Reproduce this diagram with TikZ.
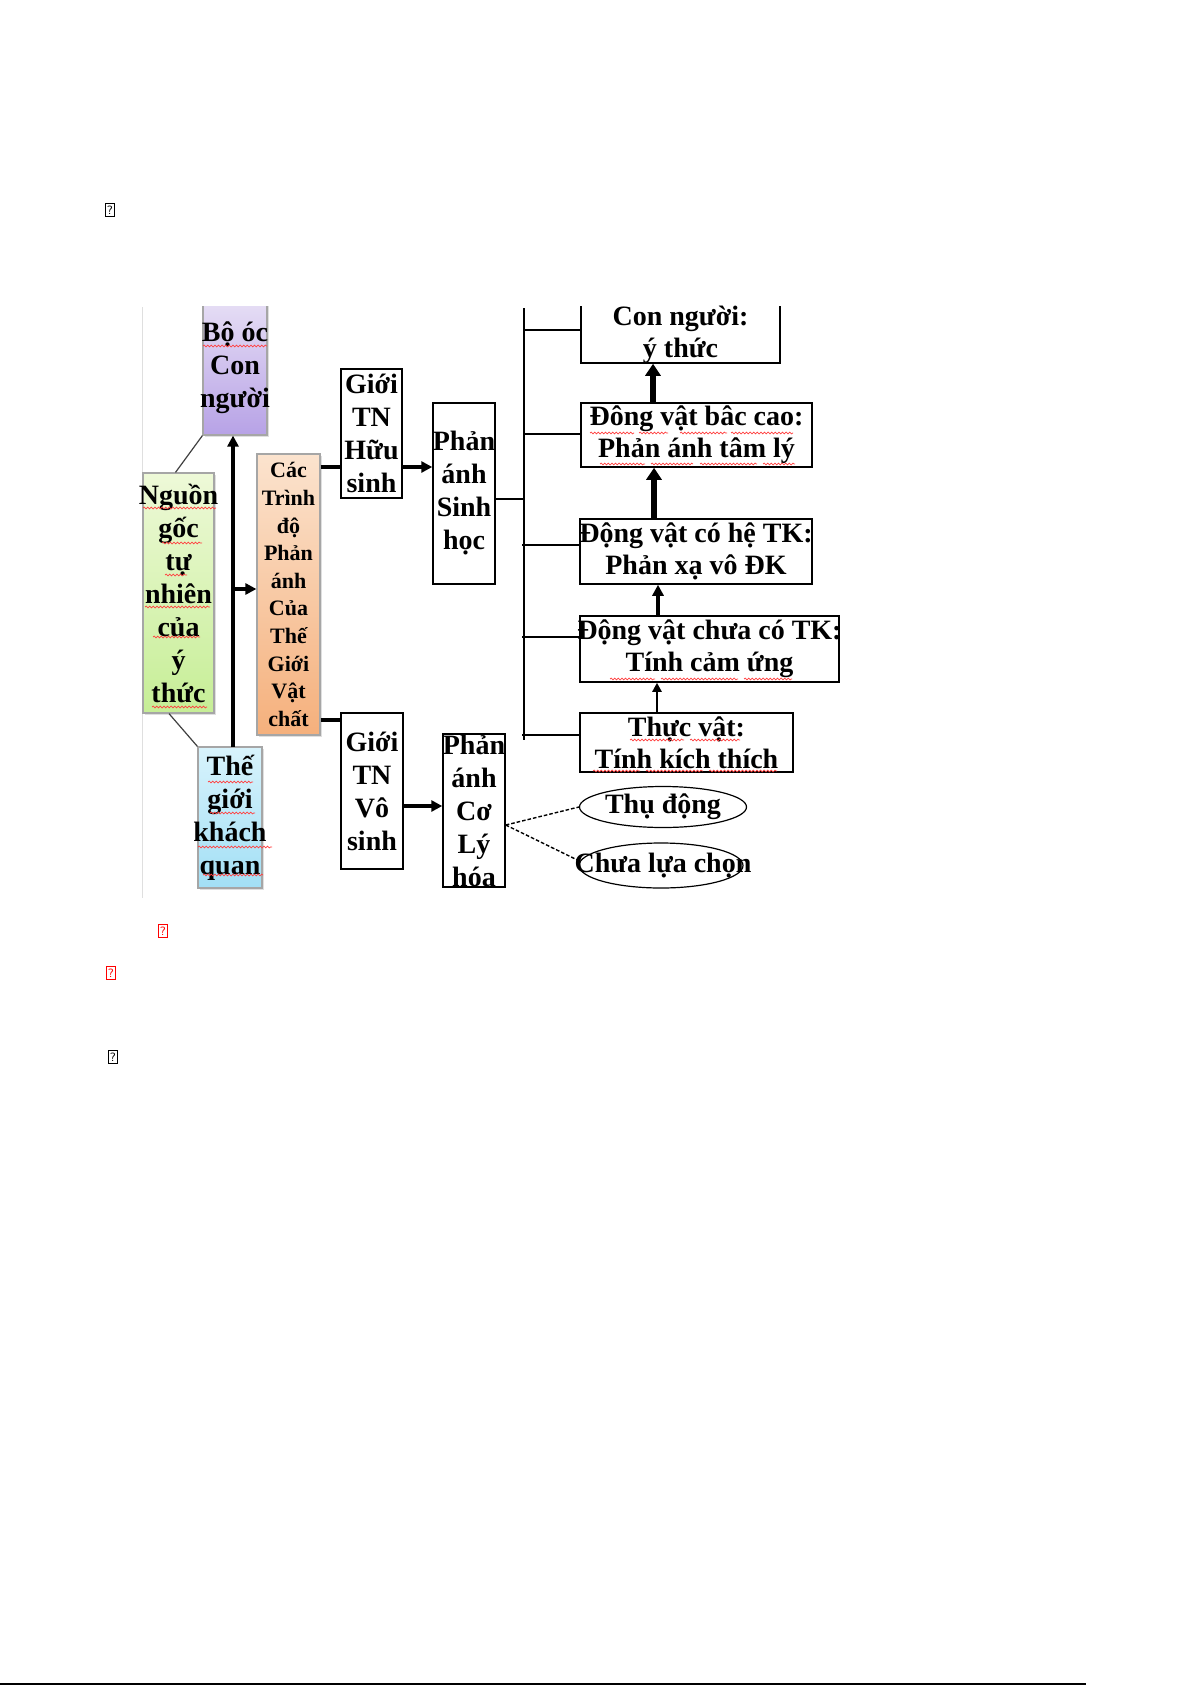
\documentclass[tikz,border=0pt]{standalone}
\usepackage{fontspec}
\setmainfont{Liberation Serif}
\usetikzlibrary{arrows.meta,shadows,calc,shapes.geometric,decorations.pathmorphing}
\definecolor{pTop}{HTML}{E6DEF5}
\definecolor{pBot}{HTML}{B7A2E6}
\definecolor{gTop}{HTML}{EEF9D8}
\definecolor{gBot}{HTML}{C6EE96}
\definecolor{bTop}{HTML}{D8F3FC}
\definecolor{bBot}{HTML}{A2DFF5}
\definecolor{oTop}{HTML}{FBE3CE}
\definecolor{oBot}{HTML}{F5B07C}
\begin{document}
\begin{tikzpicture}[x=0.5pt,y=-0.5pt,
  txt/.style={font=\bfseries\fontsize{14pt}{16.5pt}\selectfont, align=center, inner ysep=0pt, inner xsep=-6pt},
  rtxt/.style={font=\bfseries\fontsize{14pt}{16pt}\selectfont, align=center, inner ysep=0pt, inner xsep=-6pt},
  wbox/.style={draw=black, line width=0.75pt, rectangle, fill=white},
  cbox/.style={draw=gray!70, line width=0.6pt, rectangle, drop shadow={opacity=0.25,shadow xshift=1pt,shadow yshift=-1pt}},
  hugearr/.style={line width=2.8pt, -{Triangle[length=6pt,width=7.5pt]}},
  bigarr/.style={line width=2pt, -{Triangle[length=5.5pt,width=5.5pt]}},
  smallarr/.style={line width=1.2pt, -{Triangle[length=4.5pt,width=4.5pt]}},
  thickln/.style={line width=1.8pt},
  busln/.style={line width=0.6pt},
  thinln/.style={line width=0.6pt, black!75},
  dashln/.style={line width=0.7pt, dash pattern=on 1.8pt off 1pt},
  sq/.style={red!75, line width=0.35pt, decorate, decoration={snake, amplitude=0.45pt, segment length=1.8pt}},
  ph/.style={draw, line width=0.4pt, inner sep=0pt, minimum width=4.5pt, minimum height=6.5pt, font=\sffamily\fontsize{6pt}{6pt}\selectfont}
]
\useasboundingbox (0,0) rectangle (1192,1685);
\fill[white] (0,0) rectangle (1192,1685);

% image edge
\draw[gray!25, line width=0.5pt] (142,307) -- (142,898);

% left column
\node[cbox, txt, top color=pTop, bottom color=pBot, minimum width=32pt, minimum height=67pt] (boc) at (235,368) {Bộ óc\\Con\\người};
\node[cbox, txt, top color=gTop, bottom color=gBot, minimum width=35.5pt, minimum height=120pt] (nguon) at (178.5,593) {Nguồn\\gốc\\tự\\nhiên\\của\\ý\\thức};
\node[cbox, txt, top color=bTop, bottom color=bBot, minimum width=32pt, minimum height=70.5pt] (thegioi) at (230,817.5) {Thế\\giới\\khách\\quan};
\node[cbox, font=\bfseries\fontsize{11pt}{13.8pt}\selectfont, align=center, inner sep=0pt, top color=oTop, bottom color=oBot, minimum width=31.5pt, minimum height=140.5pt] (cac) at (288.5,594.5) {Các\\Trình\\độ\\Phản\\ánh\\Của\\Thế\\Giới\\Vật\\chất};

% middle boxes
\node[wbox, txt, minimum width=30.5pt, minimum height=64.5pt] (huu) at (371.5,433.5) {Giới\\TN\\Hữu\\sinh};
\node[wbox, txt, minimum width=31pt, minimum height=90.5pt] (sinhhoc) at (464,493.5) {Phản\\ánh\\Sinh\\học};
\node[wbox, txt, minimum width=31pt, minimum height=78pt] (vosinh) at (372,791) {Giới\\TN\\Vô\\sinh};
\node[wbox, txt, minimum width=31pt, minimum height=76.5pt] (coly) at (474,810.5) {Phản\\ánh\\Cơ\\Lý\\hóa};

% right boxes
\node[wbox, inner sep=0pt, minimum width=99.5pt, minimum height=31.5pt] (conng) at (680.5,331.5) {};
\node[wbox, rtxt, minimum width=115.5pt, minimum height=32pt] (baccao) at (696.5,435) {Đông vật bâc cao:\\Phản ánh tâm lý};
\node[wbox, rtxt, minimum width=116pt, minimum height=32.5pt] (cohe) at (696,551.5) {Động vật có hệ TK:\\Phản xạ vô ĐK};
\node[wbox, rtxt, minimum width=129.5pt, minimum height=33pt] (chuaco) at (709.5,649) {Động vật chưa có TK:\\Tính cảm ứng};
\node[wbox, rtxt, minimum width=106.5pt, minimum height=29.5pt] (thucvat) at (686.5,742.5) {Thực vật:\\Tính kích thích};

\node[draw, ellipse, line width=0.6pt, inner sep=0pt, minimum width=83.5pt, minimum height=20.5pt] (thudong) at (663,807) {};
\node[rtxt] (thudongT) at (thudong.center) {Thụ động};
\node[draw, ellipse, line width=0.6pt, inner sep=0pt, minimum width=82pt, minimum height=22.5pt] (chualua) at (661,865.5) {};
\node[rtxt] (chualuaT) at ([xshift=1pt]chualua.center) {Chưa lựa chọn};

% hide tops beyond image edge
\fill[white] (150,260) rectangle (900,306);
\node[rtxt] (conngT) at (680.5,335) {Con người:\\ý thức};

% spell-check squiggles
\draw[sq] (203,346) -- (267,346);
\draw[sq] (143,508) -- (216,508);
\draw[sq] (162,543) -- (202,543);
\draw[sq] (165,575) -- (187,575);
\draw[sq] (145,607) -- (210,607);
\draw[sq] (153,637) -- (200,637);
\draw[sq] (152,707) -- (207,707);
\draw[sq] (208,782) -- (253,782);
\draw[sq] (210,813) -- (255,813);
\draw[sq] (198,847) -- (272,847);
\draw[sq] (203,875) -- (263,875);
\draw[sq] (590,433) -- (634,433);
\draw[sq] (639,433) -- (668,433);
\draw[sq] (680,433) -- (727,433);
\draw[sq] (731,433) -- (793,433);
\draw[sq] (600,464) -- (645,464);
\draw[sq] (651,464) -- (693,464);
\draw[sq] (700,464) -- (757,464);
\draw[sq] (763,464) -- (795,464);
\draw[sq] (610,679) -- (655,679);
\draw[sq] (661,679) -- (738,679);
\draw[sq] (744,679) -- (792,679);
\draw[sq] (630,740) -- (684,740);
\draw[sq] (690,740) -- (740,740);
\draw[sq] (593,771) -- (640,771);
\draw[sq] (646,771) -- (703,771);
\draw[sq] (709,771) -- (777,771);

% main vertical arrow and branches
\coordinate (mb) at (233,747);
\coordinate (mx) at (233,589);
\draw[bigarr] (mb) -- (mb |- boc.south);
\draw[bigarr] (mx) -- (mx -| cac.west);
\draw[thinln] (boc.south west) -- ([xshift=-1.5pt]nguon.north);
\draw[thinln] ([xshift=-4.75pt]nguon.south) -- (thegioi.north west);

\coordinate (hy) at (0,467);
\coordinate (vy) at (0,720);
\coordinate (ay) at (0,806);
\draw[thickln] (cac.east |- hy) -- (huu.west |- hy);
\draw[thickln] (cac.east |- vy) -- (vosinh.west |- vy);
\draw[bigarr] (huu.east |- hy) -- (sinhhoc.west |- hy);
\draw[bigarr] (vosinh.east |- ay) -- (coly.west |- ay);

% bus
\coordinate (bt) at (524,308);
\coordinate (bb) at (524,740);
\draw[busln] (bt) -- (bb);
\draw[busln] (sinhhoc.east |- 0,499) -- (bt |- 0,499);
\draw[busln] (bt |- 0,330) -- (conng.west |- 0,330);
\draw[busln] (bt |- 0,434) -- (baccao.west |- 0,434);
\draw[busln] ([xshift=-1pt]bt |- 0,545) -- (cohe.west |- 0,545);
\draw[busln] ([xshift=-1pt]bt |- 0,637) -- (chuaco.west |- 0,637);
\draw[busln] ([xshift=-1pt]bt |- 0,735) -- (thucvat.west |- 0,735);

% right vertical arrows
\draw[hugearr] (baccao.north -| 653,0) -- (conng.south -| 653,0);
\draw[hugearr] (cohe.north -| 654,0) -- (baccao.south -| 654,0);
\draw[bigarr] (chuaco.north -| 658,0) -- (cohe.south -| 658,0);
\draw[smallarr] (thucvat.north -| 657,0) -- (chuaco.south -| 657,0);

% dashed
\coordinate (cd) at (coly.east |- 0,825);
\draw[dashln] (cd) -- (thudong.west);
\draw[dashln] (cd) -- ([yshift=2.5pt]chualua.west);

% placeholder glyphs
\node[ph] (p1) at (110,210) {?};
\node[ph, draw=red, text=red] (p2) at (163,931) {?};
\node[ph, draw=red, text=red] (p3) at (111,973) {?};
\node[ph] (p4) at (113,1057) {?};

% page bottom rule
\draw[line width=1pt] (0,1684) -- (1086,1684);
\end{tikzpicture}
\end{document}
